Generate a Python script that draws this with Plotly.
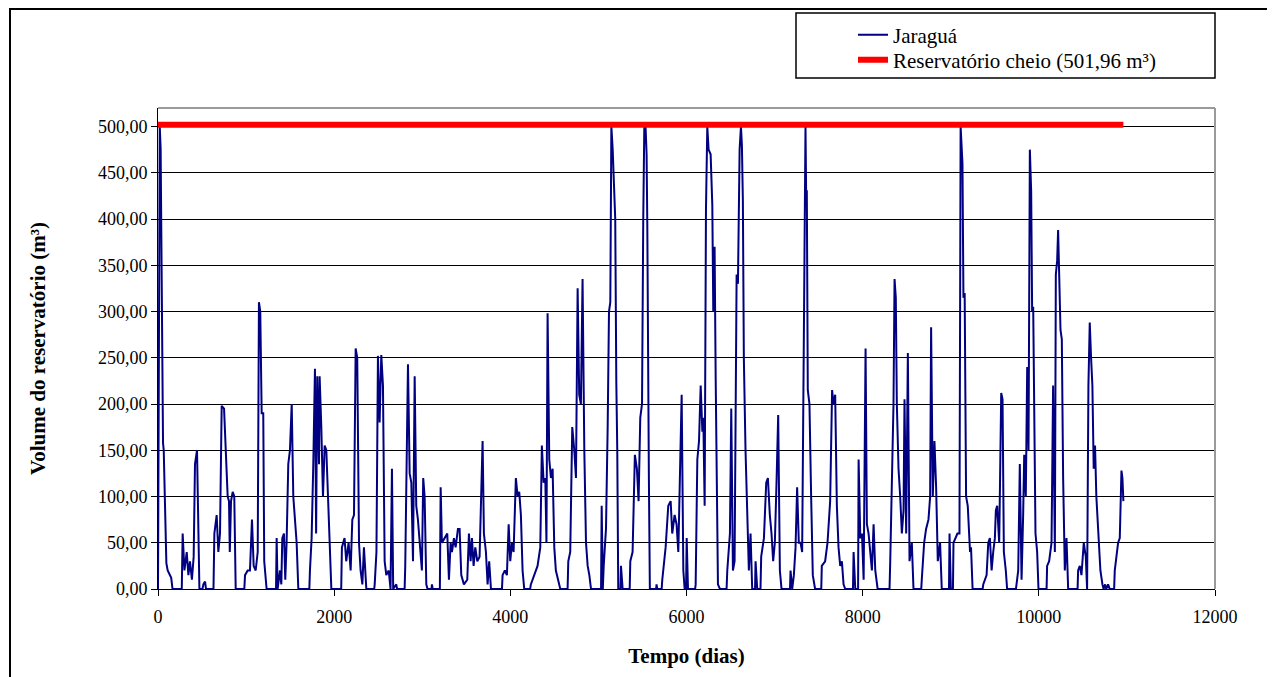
import plotly.graph_objects as go

# ---- data: (day, volume m3) ----
seg_1 = [(0, 0), (10, 400), (20, 500), (30, 476), (42, 288), (50, 285), (57, 158), (65, 150),
         (76, 89), (85, 60), (95, 28), (110, 20), (130, 15), (150, 12), (165, 0), (270, 0),
         (280, 60), (300, 20), (326, 40), (345, 15), (363, 30), (385, 10), (405, 35), (420, 135),
         (443, 150), (458, 60), (470, 0), (505, 0), (515, 5), (534, 8), (545, 0), (630, 0),
         (640, 60), (666, 80), (685, 40), (704, 60), (723, 198), (750, 195), (768, 150), (791, 100),
         (806, 95), (815, 40), (829, 95), (848, 105), (866, 100), (875, 30), (882, 0), (980, 0),
         (988, 15), (1018, 20), (1044, 20), (1067, 75), (1086, 25), (1109, 20), (1132, 40),
         (1146, 310), (1161, 300), (1177, 190), (1195, 190), (1206, 30), (1233, 0)]
seg_2 = [(1340, 0), (1347, 55), (1358, 0), (1385, 20), (1400, 5), (1411, 55), (1430, 60), (1445, 10),
         (1460, 50), (1479, 135), (1498, 150), (1518, 200), (1536, 100), (1555, 70), (1574, 50),
         (1593, 0), (1718, 0), (1725, 20), (1744, 55), (1763, 135), (1782, 238), (1795, 60),
         (1808, 230), (1828, 135), (1835, 230), (1854, 175), (1873, 100), (1892, 155), (1911, 150),
         (1930, 100), (1949, 45), (1968, 0), (2080, 0), (2088, 45), (2118, 55), (2137, 30),
         (2164, 50), (2187, 20), (2206, 75), (2225, 80), (2244, 260), (2262, 250), (2282, 50),
         (2300, 20), (2320, 5), (2338, 45), (2365, 0), (2455, 0), (2460, 5), (2480, 40), (2497, 252),
         (2516, 180), (2535, 253), (2554, 220), (2573, 30), (2592, 15), (2619, 20), (2640, 0),
         (2656, 130), (2670, 0), (2705, 5), (2715, 0), (2800, 0), (2807, 25), (2838, 243),
         (2857, 125), (2876, 115), (2895, 30), (2914, 230), (2932, 90), (2951, 75), (2970, 50),
         (2996, 20), (3011, 120), (3027, 100), (3046, 5), (3060, 0), (3105, 0), (3110, 5), (3118, 0)]
seg_3 = [(3200, 0), (3209, 110), (3223, 50), (3254, 55), (3284, 60), (3303, 10), (3322, 50),
         (3337, 40), (3360, 55), (3379, 45), (3405, 65), (3424, 65), (3443, 15), (3473, 5),
         (3511, 10), (3530, 60), (3549, 30), (3564, 55), (3583, 25), (3602, 45), (3625, 30),
         (3651, 35), (3670, 125), (3685, 160), (3700, 60), (3723, 40), (3742, 5), (3760, 30),
         (3780, 0), (3905, 0), (3912, 15), (3938, 20), (3961, 15), (3981, 70), (3999, 30), (4018, 50),
         (4037, 40), (4063, 120), (4083, 100), (4101, 105), (4120, 80), (4139, 20), (4158, 0),
         (4225, 0), (4233, 5), (4271, 15), (4309, 25), (4340, 45), (4358, 155), (4378, 115),
         (4397, 120), (4410, 50), (4423, 298), (4442, 140), (4461, 120), (4480, 130), (4499, 45),
         (4517, 20), (4544, 10), (4567, 0), (4650, 0), (4658, 30), (4680, 40), (4703, 175),
         (4726, 150), (4745, 120), (4764, 325), (4782, 210), (4801, 200), (4820, 335), (4840, 150),
         (4859, 50), (4878, 25), (4897, 15), (4916, 0)]
seg_4 = [(5030, 0), (5037, 90), (5050, 0), (5060, 25), (5086, 65), (5105, 175), (5120, 300),
         (5135, 310), (5147, 500), (5162, 475), (5180, 420), (5191, 400), (5203, 225), (5214, 150),
         (5225, 0), (5250, 0), (5256, 25), (5275, 0), (5355, 0), (5362, 30), (5388, 40), (5414, 145),
         (5437, 130), (5456, 95), (5475, 185), (5495, 200), (5509, 400), (5521, 500), (5535, 500),
         (5547, 470), (5555, 395), (5562, 250), (5573, 120), (5584, 0), (5655, 0), (5660, 5),
         (5668, 0), (5718, 0), (5725, 10), (5763, 45), (5793, 90), (5820, 95), (5838, 60),
         (5865, 80), (5887, 70), (5907, 40), (5926, 120), (5945, 210), (5964, 20), (5979, 0),
         (5995, 0), (6002, 55), (6017, 0), (6098, 0), (6104, 5), (6123, 140), (6142, 160),
         (6161, 220), (6180, 170), (6191, 185), (6206, 90), (6221, 410), (6236, 500), (6251, 475),
         (6274, 470), (6293, 415), (6304, 300), (6319, 370), (6331, 230), (6342, 130), (6357, 5),
         (6380, 0)]
seg_5 = [(6455, 0), (6463, 20), (6493, 60), (6508, 195), (6527, 20), (6546, 30), (6569, 340),
         (6584, 330), (6603, 475), (6618, 500), (6629, 480), (6640, 420), (6651, 250), (6670, 150),
         (6689, 70), (6708, 20), (6727, 60), (6746, 0), (6778, 0), (6784, 30), (6803, 0), (6840, 0),
         (6848, 35), (6879, 55), (6905, 115), (6924, 120), (6946, 80), (6965, 60), (6984, 30),
         (7003, 50), (7022, 115), (7041, 188), (7060, 20), (7079, 0), (7175, 0), (7181, 20),
         (7200, 0), (7219, 15), (7238, 45), (7256, 110), (7275, 50), (7295, 50), (7313, 40),
         (7324, 190), (7340, 390), (7351, 500), (7358, 430), (7366, 430), (7377, 215), (7396, 200),
         (7415, 100), (7434, 15), (7460, 0), (7530, 0), (7536, 25), (7574, 30), (7601, 50),
         (7631, 95), (7653, 215), (7669, 200), (7688, 210), (7707, 90), (7726, 45), (7745, 25),
         (7764, 30), (7783, 5), (7802, 0), (7890, 0), (7897, 40), (7916, 0)]
seg_6 = [(7948, 0), (7954, 140), (7973, 55), (7992, 60), (8011, 10), (8033, 260), (8048, 70),
         (8067, 60), (8086, 40), (8105, 20), (8124, 70), (8143, 20), (8170, 0), (8305, 0),
         (8313, 30), (8331, 110), (8350, 200), (8362, 335), (8376, 315), (8388, 200), (8407, 130),
         (8426, 100), (8445, 60), (8464, 85), (8475, 205), (8494, 60), (8513, 255), (8532, 30),
         (8558, 50), (8577, 0), (8665, 0), (8671, 10), (8698, 50), (8720, 65), (8747, 75),
         (8766, 100), (8777, 283), (8796, 100), (8815, 160), (8834, 110), (8853, 30), (8879, 50),
         (8898, 0), (8980, 0), (8986, 60), (9001, 0), (9025, 0), (9031, 50), (9054, 55), (9076, 60),
         (9099, 60), (9112, 500), (9133, 460), (9144, 315), (9158, 320), (9174, 100), (9193, 90),
         (9219, 40), (9230, 45), (9248, 0)]
seg_7 = [(9362, 0), (9369, 5), (9407, 15), (9426, 50), (9444, 55), (9464, 20), (9482, 40),
         (9501, 55), (9512, 85), (9527, 90), (9550, 50), (9573, 212), (9588, 205), (9603, 40),
         (9625, 20), (9640, 0), (9740, 0), (9747, 5), (9766, 20), (9784, 135), (9804, 10),
         (9822, 80), (9834, 145), (9852, 100), (9868, 240), (9883, 150), (9898, 475), (9913, 430),
         (9924, 300), (9936, 305), (9947, 170), (9962, 60), (9981, 40), (9996, 0), (10088, 0),
         (10094, 25), (10117, 30), (10144, 50), (10162, 220), (10182, 40), (10193, 340),
         (10208, 355), (10219, 388), (10231, 335), (10246, 280), (10261, 270), (10276, 120),
         (10295, 20), (10314, 55), (10333, 0), (10440, 0), (10446, 20), (10465, 25), (10484, 15),
         (10510, 50), (10533, 35), (10548, 0), (10563, 220), (10578, 288), (10593, 250),
         (10608, 220), (10623, 130), (10638, 155), (10653, 100), (10668, 70), (10684, 40),
         (10699, 20), (10722, 5), (10735, 0), (10752, 5), (10765, 0), (10786, 5), (10805, 0),
         (10855, 0), (10862, 20), (10881, 35), (10900, 50), (10919, 55), (10938, 128),
         (10949, 120), (10960, 95)]

full_volume = 501.96
series_name = "Jaraguá"
full_name = "Reservatório cheio (501,96 m³)"
x_title = "Tempo (dias)"
y_title = "Volume do reservatório (m³)"

readings = seg_1 + seg_2 + seg_3 + seg_4 + seg_5 + seg_6 + seg_7
days = [d for d, _ in readings]
volume = [v for _, v in readings]

FONT = "Liberation Serif"
OFF = 8                      # default page body margin
W, H = 1275 - OFF, 677 - OFF
L, T = 158 - OFF, 108 - OFF  # plot area: 158..1215 x 108..589 in the reference
PW, PH = 1057, 481
R, B = W - L - PW, H - T - PH


def px(x):
    return (x - 158) / PW


def py(y):
    return (589 - y) / PH


fig = go.Figure()
fig.add_trace(go.Scatter(x=days, y=volume, mode="lines", name=series_name,
                         line=dict(color="#000080", width=2), legend="legend"))
fig.add_trace(go.Scatter(x=[days[0], days[-1]], y=[full_volume, full_volume], mode="lines",
                         name=full_name, line=dict(color="#ff0000", width=6), legend="legend2"))

leg_common = dict(xanchor="left", yanchor="middle", bgcolor="rgba(0,0,0,0)", borderwidth=0,
                  font=dict(family=FONT, size=21, color="black"))

fig.update_layout(
    width=W, height=H,
    margin=dict(l=L, r=R, t=T, b=B, autoexpand=False),
    paper_bgcolor="white", plot_bgcolor="white",
    separators=",.",
    font=dict(family=FONT, size=18, color="black"),
    showlegend=True,
    legend=dict(x=px(853), y=py(35), **leg_common),
    legend2=dict(x=px(853), y=py(60), **leg_common),
    xaxis=dict(range=[0, 12000], dtick=2000, tick0=0, tickformat="d",
               ticks="outside", ticklen=6, tickcolor="black",
               showline=True, linecolor="black", linewidth=1,
               showgrid=False, zeroline=False, ticklabelstandoff=5,
               tickfont=dict(family=FONT, size=18, color="black"),
               title=dict(text="<b>" + x_title + "</b>", standoff=22,
                          font=dict(family=FONT, size=21, color="black")),
               automargin=False),
    yaxis=dict(range=[0, 520], dtick=50, tick0=0, tickformat=".2f",
               ticks="outside", ticklen=6, tickcolor="black",
               showline=True, linecolor="black", linewidth=1,
               showgrid=True, gridcolor="black", gridwidth=1, zeroline=False,
               tickfont=dict(family=FONT, size=18, color="black"),
               title=dict(text="<b>" + y_title + "</b>", standoff=46,
                          font=dict(family=FONT, size=21, color="black")),
               automargin=False),
    shapes=[
        dict(type="line", xref="paper", yref="paper", x0=0, x1=1, y0=1, y1=1,
             line=dict(color="#9a9a9a", width=2)),
        dict(type="line", xref="paper", yref="paper", x0=1, x1=1, y0=0, y1=1,
             line=dict(color="#9a9a9a", width=2)),
        dict(type="rect", xref="paper", yref="paper", x0=px(796), x1=px(1215),
             y0=py(78), y1=py(13), line=dict(color="black", width=1.5),
             fillcolor="rgba(0,0,0,0)"),
        dict(type="rect", xref="paper", yref="paper", x0=px(10), x1=px(1272),
             y0=py(700), y1=py(9), line=dict(color="black", width=2),
             fillcolor="rgba(0,0,0,0)"),
    ],
)

fig.write_html("out.html")
